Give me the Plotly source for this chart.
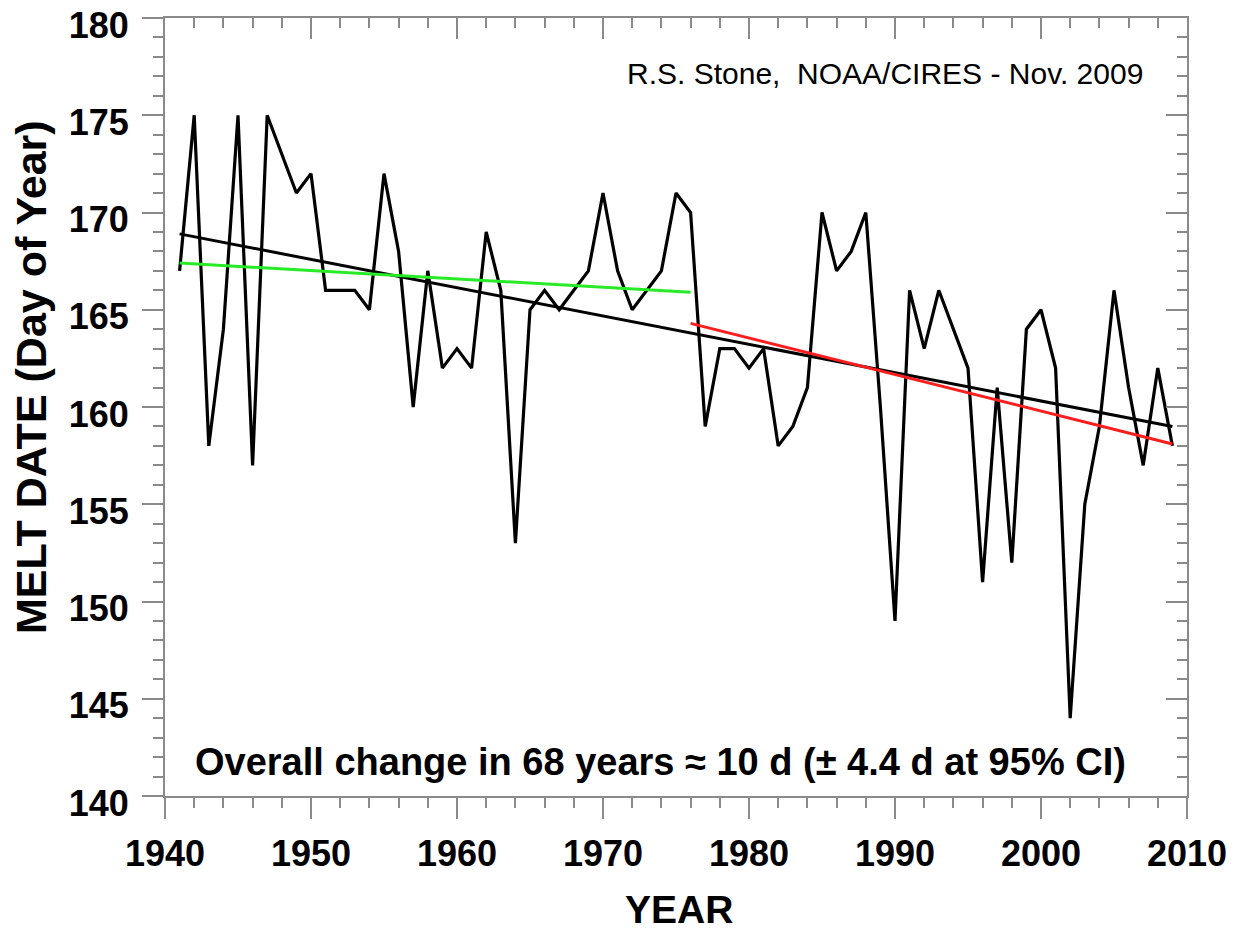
import plotly.graph_objects as go

years = list(range(1941, 2010))
melt_day = [167, 175, 158, 164, 175, 157, 175, 173, 171, 172,
            166, 166, 166, 165, 172, 168, 160, 167, 162, 163,
            162, 169, 166, 153, 165, 166, 165, 166, 167, 171,
            167, 165, 166, 167, 171, 170, 159, 163, 163, 162,
            163, 158, 159, 161, 170, 167, 168, 170, 160, 149,
            166, 163, 166, 164, 162, 151, 161, 152, 164, 165,
            162, 144, 155, 159, 166, 161, 157, 162, 158]

trend_all_years = [1941, 2009]
trend_all_vals = [168.9, 159.0]
trend_early_years = [1941, 1976]
trend_early_vals = [167.4, 165.9]
trend_late_years = [1976, 2009]
trend_late_vals = [164.3, 158.1]

x_ticks = [1940, 1950, 1960, 1970, 1980, 1990, 2000, 2010]
y_ticks = [140, 145, 150, 155, 160, 165, 170, 175, 180]

FONT = "Liberation Sans, Arial, Helvetica, sans-serif"
AX = "#8a8a8a"

fig = go.Figure()
fig.add_trace(go.Scatter(x=years, y=melt_day, mode="lines",
                         line=dict(color="black", width=3.2), showlegend=False))
fig.add_trace(go.Scatter(x=trend_all_years, y=trend_all_vals, mode="lines",
                         line=dict(color="black", width=3), showlegend=False))
fig.add_trace(go.Scatter(x=trend_early_years, y=trend_early_vals, mode="lines",
                         line=dict(color="rgb(40,235,40)", width=3), showlegend=False))
fig.add_trace(go.Scatter(x=trend_late_years, y=trend_late_vals, mode="lines",
                         line=dict(color="rgb(255,30,30)", width=3), showlegend=False))
# invisible trace for the mirrored (top/right) axes
fig.add_trace(go.Scatter(x=[x_ticks[0]], y=[y_ticks[0]], xaxis="x2", yaxis="y2",
                         mode="markers", marker=dict(opacity=0), showlegend=False,
                         hoverinfo="skip"))

xr = [x_ticks[0], x_ticks[-1]]
yr = [y_ticks[0], y_ticks[-1]]

fig.update_layout(
    width=1228, height=921,
    margin=dict(l=157, r=49, t=10, b=133, autoexpand=False),
    paper_bgcolor="white", plot_bgcolor="white",
    font=dict(family=FONT, color="black"),
    xaxis=dict(range=xr, tickvals=x_ticks, showgrid=False, zeroline=False,
               automargin=False,
               showline=True, linecolor=AX, linewidth=2,
               ticks="outside", ticklen=21, tickwidth=2, tickcolor=AX,
               minor=dict(dtick=2, tick0=1940, ticks="outside", ticklen=10,
                          tickwidth=2, tickcolor=AX),
               tickfont=dict(size=36, family=FONT, weight="bold"),
               ticklabelstandoff=4, ticklabeloverflow="allow"),
    yaxis=dict(range=yr, tickvals=y_ticks, showgrid=False, zeroline=False,
               automargin=False,
               showline=True, linecolor=AX, linewidth=2,
               ticks="outside", ticklen=21, tickwidth=2, tickcolor=AX,
               minor=dict(dtick=1, tick0=140, ticks="outside", ticklen=10,
                          tickwidth=2, tickcolor=AX),
               tickfont=dict(size=36, family=FONT, weight="bold"),
               ticklabelstandoff=6, ticklabelshift=7,
               ticklabeloverflow="allow"),
    xaxis2=dict(range=xr, overlaying="x", side="top", anchor="y2",
                automargin=False,
                tickvals=x_ticks, showticklabels=False, showgrid=False,
                zeroline=False, showline=True, linecolor=AX, linewidth=2,
                ticks="inside", ticklen=21, tickwidth=2, tickcolor=AX,
                minor=dict(dtick=2, tick0=1940, ticks="inside", ticklen=10,
                           tickwidth=2, tickcolor=AX)),
    yaxis2=dict(range=yr, overlaying="y", side="right", anchor="x2",
                automargin=False,
                tickvals=y_ticks, showticklabels=False, showgrid=False,
                zeroline=False, showline=True, linecolor=AX, linewidth=2,
                ticks="inside", ticklen=21, tickwidth=2, tickcolor=AX,
                minor=dict(dtick=1, tick0=140, ticks="inside", ticklen=10,
                           tickwidth=2, tickcolor=AX)),
    annotations=[
        dict(text="<b>YEAR</b>",
             xref="paper", yref="paper", x=0.503, y=-0.1465,
             xanchor="center", yanchor="middle", showarrow=False,
             font=dict(size=39, family=FONT)),
        dict(text="<b>MELT DATE (Day of Year)</b>", textangle=-90,
             xref="paper", yref="paper", x=-0.131, y=0.5386,
             xanchor="center", yanchor="middle", showarrow=False,
             font=dict(size=43, family=FONT)),
        dict(text="R.S. Stone,  NOAA/CIRES - Nov. 2009",
             xref="paper", yref="paper", x=0.959, y=0.929,
             xanchor="right", yanchor="middle", showarrow=False,
             font=dict(size=30, family=FONT)),
        dict(text="<b>Overall change in 68 years \u2248 10 d (\u00b1 4.4 d at 95% CI)</b>",
             xref="paper", yref="paper", x=0.485, y=0.0437,
             xanchor="center", yanchor="middle", showarrow=False,
             font=dict(size=38, family=FONT)),
    ],
)

fig.write_html("out.html")
